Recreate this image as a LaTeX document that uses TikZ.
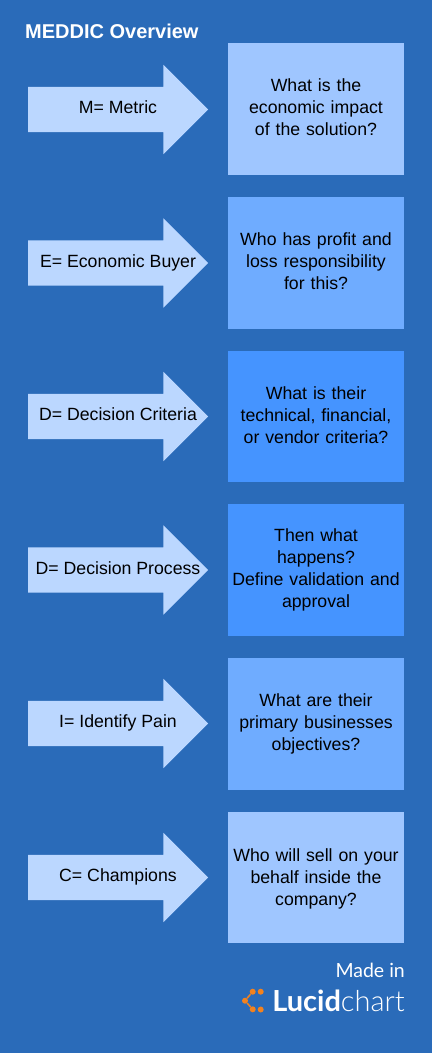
\documentclass[tikz,border=0pt]{standalone}
\usepackage{fontspec}
\setmainfont{Liberation Sans}
\newfontfamily\logofont{Lato}
\newfontfamily\logolight{Lato Light}
\usetikzlibrary{shapes.arrows}
\definecolor{pagebg}{RGB}{42,107,185}
\definecolor{arrowblue}{RGB}{187,215,255}
\definecolor{paleblue}{RGB}{159,198,255}
\definecolor{midblue}{RGB}{111,172,255}
\definecolor{deepblue}{RGB}{69,148,255}
\definecolor{logoorange}{RGB}{243,130,30}

\begin{document}
\begin{tikzpicture}[
  x=1pt, y=-1pt,
  qbox/.style={rectangle, minimum width=176pt, minimum height=132pt, inner sep=0pt, text width=172pt, align=center, font=\fontsize{17.7}{22}\selectfont},
  lift/.style={execute at end node={\endgraf\vspace*{#1}}},
  pointer/.style={single arrow, anchor=tail, fill=arrowblue, minimum height=180pt, inner xsep=0pt, inner ysep=22.5pt, single arrow head extend=22pt, single arrow tip angle=90},
  pointertext/.style={anchor=base, inner sep=0pt, font=\fontsize{17.7}{22}\selectfont},
  dot/.style={circle, fill=logoorange, inner sep=0pt, minimum size=6pt}
]
\useasboundingbox[fill=pagebg] (0,0) rectangle (432,1053);
\node[anchor=west, inner sep=0pt, text=white, font=\bfseries\fontsize{20}{24}\selectfont] (title) at (25,31) {MEDDIC Overview};

\node[pointer] (metric) at (28,109.5) {};
\node[pointer] (buyer) at (28,263) {};
\node[pointer] (criteria) at (28,416.5) {};
\node[pointer] (process) at (28,570) {};
\node[pointer] (pain) at (28,723.5) {};
\node[pointer] (champions) at (28,877.5) {};

\node[pointertext] (metrictext) at (118,113) {M= Metric};
\node[pointertext] (buyertext) at (118,267) {E= Economic Buyer};
\node[pointertext] (criteriatext) at (118,420) {D= Decision Criteria};
\node[pointertext] (processtext) at (118,574) {D= Decision Process};
\node[pointertext] (paintext) at (118,727) {I= Identify Pain};
\node[pointertext] (championstext) at (118,881) {C= Champions};

\node[qbox, lift=4.5pt, fill=paleblue] (impact) at (316,109) {What is the\\economic impact\\of the solution?};
\node[qbox, lift=4.5pt, fill=midblue] (profit) at (316,263) {Who has profit and\\loss responsibility\\for this?};
\node[qbox, lift=2.5pt, minimum height=131pt, fill=deepblue] (vendor) at (316,416.5) {What is their\\technical, financial,\\or vendor criteria?};
\node[qbox, lift=0.5pt, fill=deepblue] (approval) at (316,570) {Then what\\happens?\\Define validation and\\approval};
\node[qbox, lift=0.5pt, fill=midblue] (objectives) at (316,724) {What are their\\primary businesses\\objectives?};
\node[qbox, lift=-3.5pt, minimum height=131pt, fill=paleblue] (sell) at (316,877.5) {Who will sell on your\\behalf inside the\\company?};

\node[anchor=east, text=white, inner sep=0pt, font=\logofont\fontsize{19.5}{22}\selectfont] (madein) at (405,970) {Made in};
\node[anchor=east, text=white, inner sep=0pt, font=\logofont\fontsize{29}{32}\selectfont] (lucid) at (405,1001) {\textbf{Lucid}{\logolight chart}};

\node[dot] (dota) at (252.7,991.7) {};
\node[dot] (dotb) at (245,1000.7) {};
\node[dot] (dotc) at (252.7,1009.3) {};
\node[dot] (dotd) at (260.7,991.7) {};
\node[dot] (dote) at (260.7,1009.5) {};
\draw[logoorange, line width=1.5pt] (dota) -- (dotb) -- (dotc);
\end{tikzpicture}
\end{document}
